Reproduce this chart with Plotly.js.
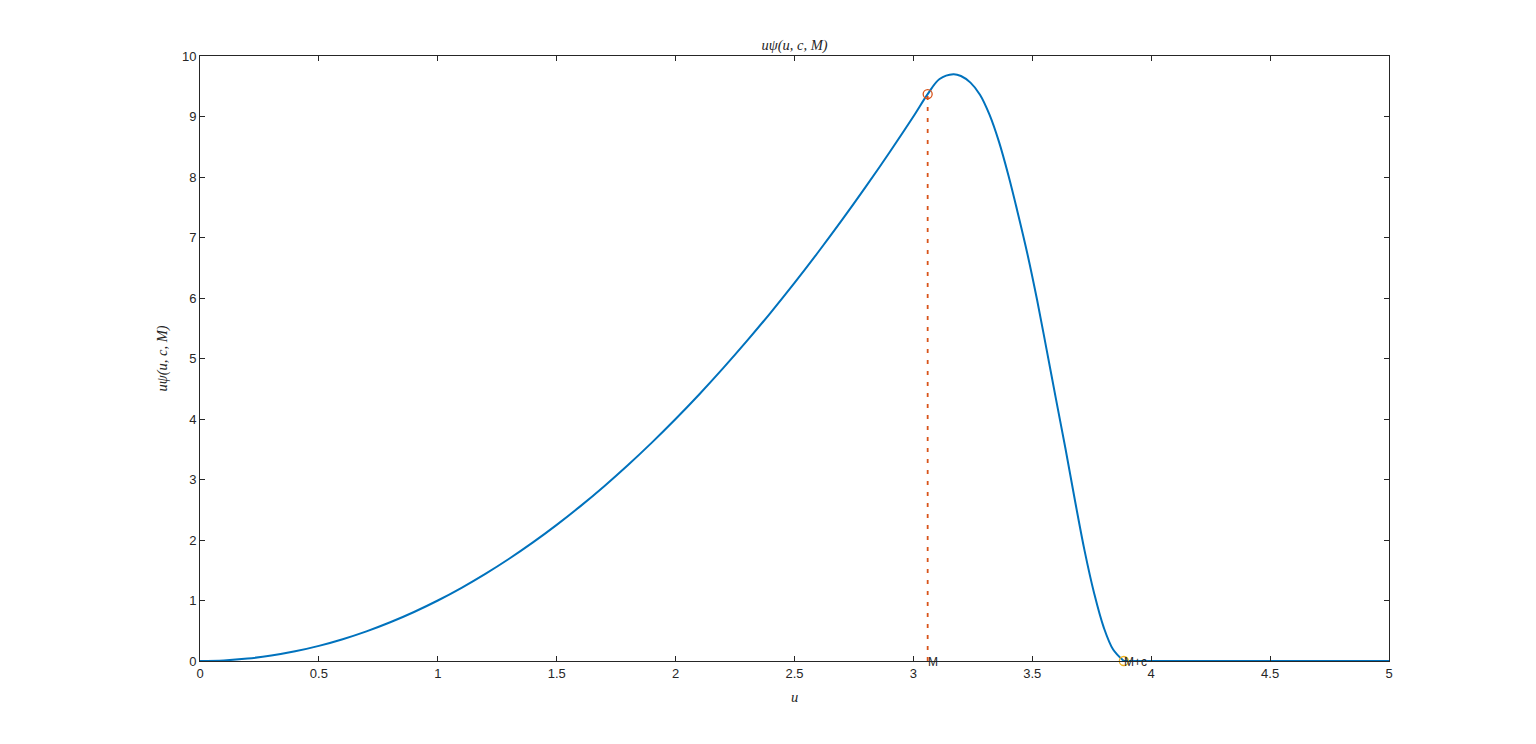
<!DOCTYPE html>
<html>
<head>
<meta charset="utf-8">
<script src="https://cdn.plot.ly/plotly-3.0.1.min.js"></script>
<style>html,body{margin:0;padding:0;background:#fff;}#chart{width:1536px;height:744px;}</style>
</head>
<body>
<div id="chart"></div>
<script>
// curve u*psi(u,c,M), values
const uCurve = [0, 0.1, 0.2, 0.3, 0.4, 0.5, 0.6, 0.7, 0.8, 0.9, 1.0, 1.1, 1.2, 1.3, 1.4, 1.5, 1.6, 1.7, 1.8, 1.9, 2.0,
  2.1, 2.2, 2.3, 2.4, 2.5, 2.6, 2.7, 2.8, 2.9, 3.0, 3.06, 3.11, 3.168, 3.20, 3.24, 3.28, 3.32, 3.36, 3.40, 3.44,
  3.48, 3.52, 3.56, 3.60, 3.64, 3.68, 3.72, 3.76, 3.80, 3.84, 3.885];
const psiCurve = [0, 0.01, 0.04, 0.09, 0.16, 0.25, 0.36, 0.49, 0.64, 0.81, 1.0, 1.21, 1.44, 1.69, 1.96, 2.25, 2.56, 2.89, 3.24, 3.61, 4.0,
  4.41, 4.84, 5.29, 5.76, 6.25, 6.76, 7.29, 7.84, 8.41, 9.0, 9.37, 9.62, 9.70, 9.67, 9.56, 9.36, 9.03, 8.58, 8.02, 7.39,
  6.72, 5.97, 5.15, 4.32, 3.50, 2.64, 1.82, 1.12, 0.56, 0.19, 0];
const uTail = [3.885, 5];
const psiTail = [0, 0];
const M = 3.06;
const psiAtM = 9.37;
const Mc = 3.885;
const labelM = 'M';
const labelMc = 'M+c';
const xTicks = [0, 0.5, 1, 1.5, 2, 2.5, 3, 3.5, 4, 4.5, 5];
const yTicks = [0, 1, 2, 3, 4, 5, 6, 7, 8, 9, 10];

const blue = '#0072BD', orange = '#D95319', yellow = '#EDB120', axc = '#262626';

const traces = [
  {x: uCurve, y: psiCurve, type: 'scatter', mode: 'lines', line: {color: blue, width: 2, shape: 'spline', smoothing: 1}, hoverinfo: 'skip'},
  {x: uTail, y: psiTail, type: 'scatter', mode: 'lines', line: {color: blue, width: 2}, cliponaxis: false, hoverinfo: 'skip'},
  {x: [M, M], y: [0, psiAtM], type: 'scatter', mode: 'lines', line: {color: orange, width: 1.8, dash: '4px,7px'}, hoverinfo: 'skip'},
  {x: [M], y: [psiAtM], type: 'scatter', mode: 'markers', marker: {symbol: 'circle-open', size: 9, color: orange, line: {width: 1.3, color: orange}}, cliponaxis: false},
  {x: [Mc], y: [0], type: 'scatter', mode: 'markers', marker: {symbol: 'circle-open', size: 9, color: yellow, line: {width: 1.3, color: yellow}}, cliponaxis: false}
];

const axisCommon = {
  showline: true, linecolor: axc, linewidth: 1, mirror: 'allticks',
  ticks: 'inside', ticklen: 5, tickwidth: 1, tickcolor: axc,
  showgrid: false, zeroline: false,
  tickfont: {family: 'Liberation Sans, Arial, sans-serif', size: 13, color: axc}
};

const serif = 'Liberation Serif, Times New Roman, serif';

const layout = {
  width: 1536, height: 744,
  margin: {l: 200, r: 147, t: 56, b: 83},
  paper_bgcolor: '#fff', plot_bgcolor: '#fff',
  showlegend: false,
  title: {text: '<i>uψ(u, c, M)</i>', x: 0.5, xref: 'paper', xanchor: 'center', y: 1 - 45 / 744, yref: 'container', yanchor: 'middle',
    font: {family: serif, size: 14.5, color: axc}},
  xaxis: Object.assign({}, axisCommon, {range: [0, 5], tickvals: xTicks, ticktext: xTicks.map(String),
    title: {text: '<i>u</i>', standoff: 12, font: {family: serif, size: 14.5, color: axc}}}),
  yaxis: Object.assign({}, axisCommon, {range: [0, 10], tickvals: yTicks, ticktext: yTicks.map(String),
    title: {text: '<i>uψ(u, c, M)</i>', standoff: 10, font: {family: serif, size: 14.5, color: axc}}}),
  annotations: [
    {x: M, y: 0, xref: 'x', yref: 'y', text: labelM, showarrow: false, xanchor: 'left', yanchor: 'middle', xshift: -2, yshift: -1,
      font: {family: 'Liberation Sans, Arial, sans-serif', size: 12, color: axc}},
    {x: Mc, y: 0, xref: 'x', yref: 'y', text: labelMc, showarrow: false, xanchor: 'left', yanchor: 'middle', xshift: -2, yshift: -1,
      font: {family: 'Liberation Sans, Arial, sans-serif', size: 12, color: axc}}
  ]
};

Plotly.newPlot('chart', traces, layout, {staticPlot: true, displayModeBar: false});
</script>
</body>
</html>
